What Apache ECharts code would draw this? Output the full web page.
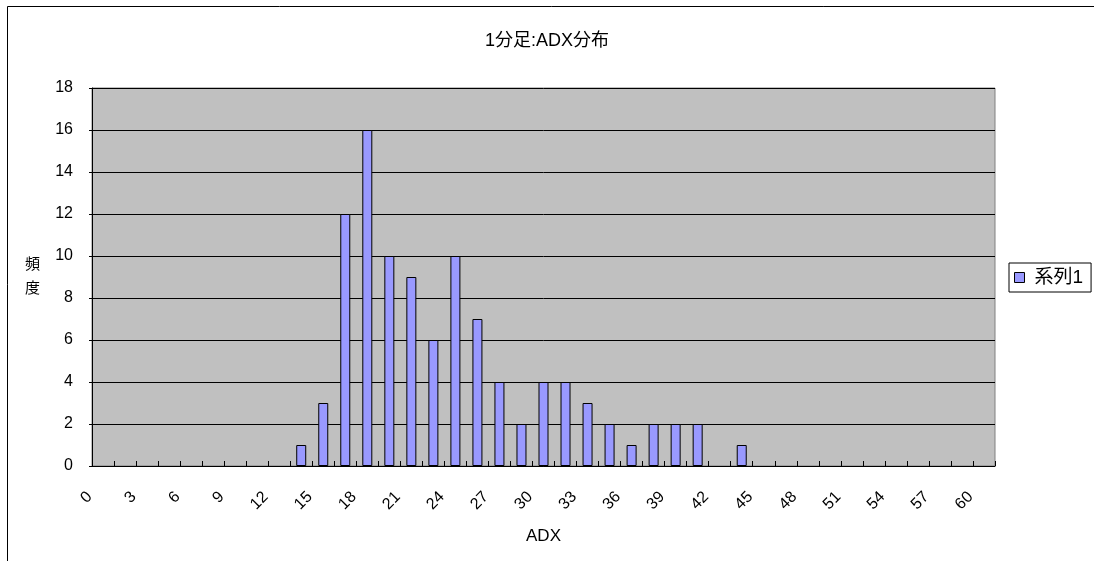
<!DOCTYPE html>
<html>
<head>
<meta charset="utf-8">
<script src="https://cdn.jsdelivr.net/npm/echarts@6/dist/echarts.min.js"></script>
<style>
html,body{margin:0;padding:0;background:#fff;}
#chart{width:1094px;height:561px;}
</style>
</head>
<body>
<div id="chart"></div>
<script>
var categories = ['0','1.5','3','4.5','6','7.5','9','10.5','12','13.5','15','16.5','18','19.5','21','22.5','24','25.5','27','28.5','30','31.5','33','34.5','36','37.5','39','40.5','42','43.5','45','46.5','48','49.5','51','52.5','54','55.5','57','58.5','60'];
var frequency = [0,0,0,0,0,0,0,0,0,1,3,12,16,10,9,6,10,7,4,2,4,4,3,2,1,2,2,2,0,1,0,0,0,0,0,0,0,0,0,0,0];
var seriesName = '系列1';
var titleText = '1分足:ADX分布';
var xName = 'ADX';
var yName = '頻\n度';

var FONT = "'Liberation Sans', 'Noto Sans CJK JP', sans-serif";
var barData = frequency.map(function (v) { return v === 0 ? null : v; });
var chart = echarts.init(document.getElementById('chart'));
chart.setOption({
  backgroundColor: '#fff',
  animation: false,
  textStyle: { fontFamily: FONT, color: '#000' },
  title: {
    text: titleText,
    left: 'center',
    top: 27,
    textStyle: { fontFamily: FONT, fontSize: 18, fontWeight: 'normal', color: '#000' }
  },
  graphic: [{
    type: 'rect',
    shape: { x: 7.5, y: 6.5, width: 1200, height: 1000 },
    style: { fill: 'none', stroke: '#000', lineWidth: 1 },
    silent: true, z: -1
  }],
  legend: {
    left: 1009,
    top: 263,
    orient: 'vertical',
    backgroundColor: '#fff',
    borderColor: '#000',
    borderWidth: 1,
    borderRadius: 0,
    padding: [5, 8, 5, 5],
    itemWidth: 10,
    itemHeight: 10,
    icon: 'rect',
    itemStyle: { borderColor: '#000', borderWidth: 1 },
    textStyle: { fontFamily: FONT, fontSize: 19, color: '#000', padding: [0, 0, 0, 5] },
    data: [seriesName]
  },
  grid: {
    left: 92, right: 99, top: 88, bottom: 95,
    show: true,
    backgroundColor: '#C0C0C0',
    borderColor: '#808080',
    borderWidth: 1
  },
  xAxis: {
    type: 'category',
    data: categories,
    boundaryGap: true,
    name: xName,
    nameLocation: 'middle',
    nameGap: 62,
    nameTextStyle: { fontFamily: FONT, fontSize: 17, color: '#000' },
    axisLine: { lineStyle: { color: '#000', width: 1 } },
    axisTick: { show: true, inside: true, length: 5, interval: 0, lineStyle: { color: '#000' } },
    axisLabel: {
      interval: 1,
      rotate: 45,
      margin: 15,
      padding: [0, 19, 0, 0],
      fontFamily: FONT,
      fontSize: 16,
      color: '#000'
    },
    splitLine: { show: false }
  },
  yAxis: {
    type: 'value',
    min: 0,
    max: 18,
    interval: 2,
    name: yName,
    nameLocation: 'middle',
    nameRotate: 0,
    nameGap: 52,
    nameTextStyle: { fontFamily: FONT, fontSize: 15, lineHeight: 24, color: '#000', padding: [16, 0, 0, 0] },
    axisLine: { show: true, lineStyle: { color: '#000', width: 1 } },
    axisTick: { show: true, inside: false, length: 3, lineStyle: { color: '#000' } },
    axisLabel: { margin: 19, fontFamily: FONT, fontSize: 16, color: '#000' },
    splitLine: { show: true, lineStyle: { color: '#000', width: 1 } }
  },
  series: [{
    name: seriesName,
    type: 'bar',
    data: barData,
    barWidth: 10,
    itemStyle: { color: '#9999FF', borderColor: '#000', borderWidth: 1 }
  }]
});
</script>
</body>
</html>
